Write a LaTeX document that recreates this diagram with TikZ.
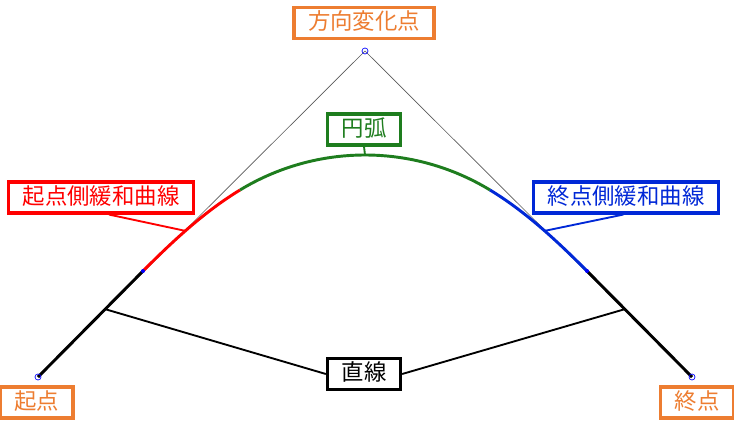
\documentclass[tikz,border=0pt]{standalone}
\usepackage{fontspec}
\setmainfont{Noto Sans CJK JP}
\usetikzlibrary{calc}
\definecolor{lorange}{RGB}{237,125,49}
\definecolor{lred}{RGB}{255,0,0}
\definecolor{lgreen}{RGB}{30,125,30}
\definecolor{lblue}{RGB}{0,40,215}
\tikzset{
    tag/.style =    {rectangle,
                    fill=white,
                    draw=#1,
                    text=#1,
                    line width=2.6pt,
                    inner xsep=10.5pt,
                    inner ysep=0pt,
                    text height=13.5pt,
                    text depth=3.5pt,
                    minimum height=23pt,
                    font=\fontsize{16.8}{20}\selectfont},
    track/.style =  {line width=2.2pt},
    tangent/.style = {line width=0.5pt,
                    draw=black!65},
    leader/.style = {line width=1.4pt},
    ipoint/.style = {circle,
                    draw=blue,
                    line width=0.5pt,
                    inner sep=0pt,
                    minimum size=4.5pt},
    tpoint/.style = {circle,
                    fill=blue,
                    inner sep=0pt,
                    minimum size=3pt},
    x=0.75pt, y=-0.75pt}

\begin{document}
\begin{tikzpicture}
    \useasboundingbox (0,0) rectangle (734,428);
    \coordinate (S)  at (38,377);
    \coordinate (P)  at (365,51);
    \coordinate (E)  at (692,377);
    \coordinate (T1) at (143,271);
    \coordinate (A)  at (240,190);
    \coordinate (M)  at (365,155);
    \coordinate (B)  at (490,190);
    \coordinate (T2) at (587,271);
    % tangent lines
    \draw[tangent] (S) -- (P) -- (E);
    % alignment
    \draw[track] (S) -- (T1) coordinate[pos=0.64] (sl);
    \draw[track, lred] (T1) .. controls (172.7,241.3) and (204.1,211.8) .. (A) coordinate[pos=0.46] (rc);
    \draw[track, lgreen] (A) .. controls (277.7,167.1) and (320.9,155) .. (M)
                             .. controls (409.1,155) and (452.3,167.1) .. (B);
    \draw[track, lblue] (B) .. controls (525.9,211.8) and (557.3,241.3) .. (T2) coordinate[pos=0.54] (bc);
    \draw[track] (T2) -- (E) coordinate[pos=0.36] (sr);
    % labels
    \node[tag=lorange] (dirtag)   at (364,23)    {方向変化点};
    \node[tag=lgreen]  (arctag)   at (364,129.5) {円弧};
    \node[tag=lred]    (redtag)   at (101,197.5) {起点側緩和曲線};
    \node[tag=lblue]   (bluetag)  at (626,197.5) {終点側緩和曲線};
    \node[tag=black]   (linetag)  at (364,374)   {直線};
    \node[tag=lorange] (starttag) at (36.5,402.5) {起点};
    \node[tag=lorange] (endtag)   at (697,402.5) {終点};
    \path [leader]  ([xshift=6pt]redtag.south) edge [lred]   (rc)
                    ([xshift=-2pt]bluetag.south) edge [lblue] (bc)
                    (arctag.south)  edge [lgreen] (M)
                    (linetag.west)  edge [black]  (sl)
                    (linetag.east)  edge [black]  (sr);
    % points
    \node[ipoint] (s) at (S) {};
    \node[ipoint] (p) at (P) {};
    \node[ipoint] (e) at (E) {};
    \node[tpoint] (t1) at (T1) {};
    \node[tpoint] (t2) at (T2) {};
\end{tikzpicture}
\end{document}
